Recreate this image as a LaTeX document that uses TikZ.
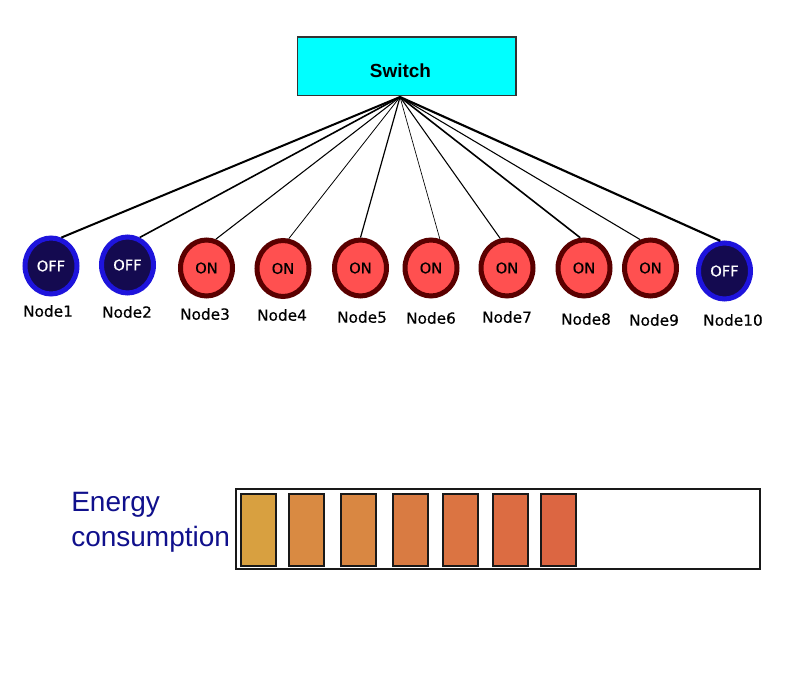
\documentclass[tikz,border=0pt]{standalone}
\usepackage{fontspec}
\setmainfont{DejaVu Sans}[FakeBold=0.4]
\newfontfamily\arialfont{Liberation Sans}
\usetikzlibrary{shapes.geometric}
\definecolor{swfill}{HTML}{00FFFF}
\definecolor{offfill}{HTML}{140A50}
\definecolor{offring}{HTML}{1E14DC}
\definecolor{onfill}{HTML}{FF5050}
\definecolor{onring}{HTML}{5A0000}
\definecolor{energy}{HTML}{10108C}
\definecolor{b1}{HTML}{D8A040}
\definecolor{b2}{HTML}{D98A42}
\definecolor{b3}{HTML}{D98742}
\definecolor{b4}{HTML}{D97B42}
\definecolor{b5}{HTML}{DB7442}
\definecolor{b6}{HTML}{DC6C42}
\definecolor{b7}{HTML}{DC6642}
\tikzset{
  pc/.style={ellipse, minimum width=39pt, minimum height=42pt, inner sep=0pt, line width=3.75pt, font=\fontsize{11}{13}\selectfont},
  offnode/.style={pc, draw=offring, fill=offfill, text=white},
  onnode/.style={pc, draw=onring, fill=onfill, text=black},
  lbl/.style={font=\fontsize{11.5}{13}\selectfont, inner sep=0pt},
  bar/.style={draw=black!90, line width=1.3pt},
  link/.style={draw=black}
}
\begin{document}
\begin{tikzpicture}[x=0.75pt,y=-0.75pt]
\useasboundingbox (0,0) rectangle (800,698);
% switch
\node[draw=black!80, line width=1pt, fill=swfill, minimum width=164pt, minimum height=44pt, inner sep=0pt, font=\arialfont\bfseries\fontsize{14.2}{16}\selectfont] (sw) at (406.5,66.5) {\raisebox{-8.4pt}[0pt][0pt]{\makebox[0pt]{Switch\hspace{9pt}}}};
\coordinate (hub) at (400,97);
% nodes
\node[offnode] (n1) at (51,266) {OFF};
\node[offnode] (n2) at (127.5,265) {OFF};
\node[onnode] (n3) at (206.5,268) {ON};
\node[onnode] (n4) at (283,268.5) {ON};
\node[onnode] (n5) at (360.5,268) {ON};
\node[onnode] (n6) at (431,268) {ON};
\node[onnode] (n7) at (507,268) {ON};
\node[onnode] (n8) at (584,268) {ON};
\node[onnode] (n9) at (650.5,268) {ON};
\node[offnode] (n10) at (724.5,271) {OFF};
% links
\draw[link, line width=1.5pt] (hub) -- (n1.70);
\draw[link, line width=1.2pt] (hub) -- (n2.66);
\draw[link, line width=0.8pt] (hub) -- (n3.72);
\draw[link, line width=0.6pt] (hub) -- (n4.79);
\draw[link, line width=0.9pt] (hub) -- (n5.90);
\draw[link, line width=0.5pt] (hub) -- (n6.73);
\draw[link, line width=0.8pt] (hub) -- (n7.103);
\draw[link, line width=1.2pt] (hub) -- (n8.97);
\draw[link, line width=0.8pt] (hub) -- (n9.110);
\draw[link, line width=1.6pt] (hub) -- (n10.98);
% labels
\node[lbl] (l1) at (48,311) {Node1};
\node[lbl] (l2) at (127,312) {Node2};
\node[lbl] (l3) at (205,314) {Node3};
\node[lbl] (l4) at (282,315) {Node4};
\node[lbl] (l5) at (362,317) {Node5};
\node[lbl] (l6) at (431,318) {Node6};
\node[lbl] (l7) at (507,317) {Node7};
\node[lbl] (l8) at (586,319) {Node8};
\node[lbl] (l9) at (654,320) {Node9};
\node[lbl] (l10) at (733,320) {Node10};
% energy
\node[anchor=west, align=left, text=energy, inner sep=0pt, font=\arialfont\fontsize{21}{26}\selectfont] (en) at (71,522) {Energy\\consumption};
\draw[line width=1.2pt, draw=black!90] (236,489) rectangle (760,569);
\draw[bar, fill=b1] (241,494) rectangle (276,566);
\draw[bar, fill=b2] (289,494) rectangle (324,566);
\draw[bar, fill=b3] (341,494) rectangle (376,566);
\draw[bar, fill=b4] (393,494) rectangle (428,566);
\draw[bar, fill=b5] (443,494) rectangle (478,566);
\draw[bar, fill=b6] (493,494) rectangle (528,566);
\draw[bar, fill=b7] (541,494) rectangle (576,566);
\end{tikzpicture}
\end{document}
